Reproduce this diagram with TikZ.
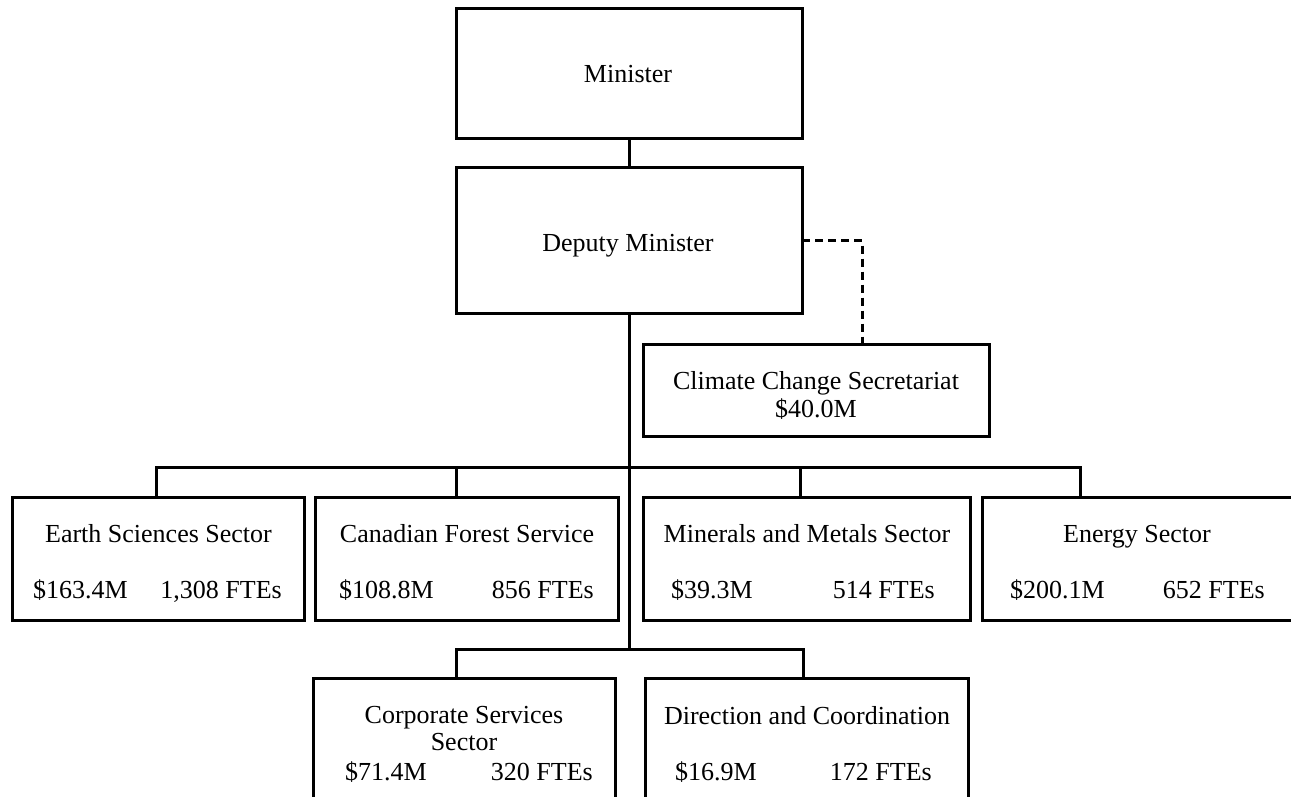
\documentclass[tikz,border=0pt]{standalone}
\usepackage{fontspec}
\setmainfont{Liberation Serif}
\begin{document}
\begin{tikzpicture}[x=1pt,y=-1pt,
  box/.style={draw, line width=3pt, inner sep=0pt, outer sep=0pt, rectangle},
  lbl/.style={inner sep=0pt, font=\fontsize{26}{28}\selectfont, anchor=base},
  lblL/.style={lbl, anchor=base west},
  lblR/.style={lbl, anchor=base east},
  conn/.style={line width=3pt, line join=miter},
  dashconn/.style={line width=3pt, dash pattern=on 8pt off 5pt}]
\useasboundingbox (0,0) rectangle (1291,797);

% boxes
\node[box, minimum width=346pt, minimum height=130pt] (min) at (629,74) {};
\node[box, minimum width=346pt, minimum height=145pt] (dep) at (629,240.5) {};
\node[box, minimum width=346pt, minimum height=92pt] (cli) at (816,390) {};
\node[box, minimum width=292pt, minimum height=123pt] (ear) at (158,558.5) {};
\node[box, minimum width=303pt, minimum height=123pt] (can) at (466.5,558.5) {};
\node[box, minimum width=327pt, minimum height=123pt] (mnm) at (806.5,558.5) {};
\node[box, minimum width=311pt, minimum height=123pt] (ene) at (1137.5,558.5) {};
\node[box, minimum width=302pt, minimum height=122pt] (cor) at (464,739) {};
\node[box, minimum width=323pt, minimum height=122pt] (dir) at (806.5,739) {};

% texts
\node[lbl] (tmin) at (628,83) {Minister};
\node[lbl] (tdep) at (628,251) {Deputy Minister};
\node[lbl] (tcli1) at (816,389) {Climate Change Secretariat};
\node[lbl] (tcli2) at (816,417) {\$40.0M};

\node[lbl] (tear) at (158.5,542) {Earth Sciences Sector};
\node[lblL] (fear1) at (33,598) {\$163.4M};
\node[lblR] (fear2) at (282,598) {1,308 FTEs};

\node[lbl] (tcan) at (467,542) {Canadian Forest Service};
\node[lblL] (fcan1) at (339,598) {\$108.8M};
\node[lblR] (fcan2) at (594,598) {856 FTEs};

\node[lbl] (tmnm) at (807,542) {Minerals and Metals Sector};
\node[lblL] (fmnm1) at (671,598) {\$39.3M};
\node[lblR] (fmnm2) at (935,598) {514 FTEs};

\node[lbl] (tene) at (1137,542) {Energy Sector};
\node[lblL] (fene1) at (1010,598) {\$200.1M};
\node[lblR] (fene2) at (1265,598) {652 FTEs};

\node[lbl] (tcor1) at (464,723) {Corporate Services};
\node[lbl] (tcor2) at (464,750) {Sector};
\node[lblL] (fcor1) at (345,780) {\$71.4M};
\node[lblR] (fcor2) at (593,780) {320 FTEs};

\node[lbl] (tdir) at (807,724) {Direction and Coordination};
\node[lblL] (fdir1) at (675,780) {\$16.9M};
\node[lblR] (fdir2) at (932,780) {172 FTEs};

% junction coordinates
\coordinate (j1) at (156,467);
\coordinate (j2) at (456,467);
\coordinate (j3) at (800,467);
\coordinate (j4) at (1080,467);
\coordinate (bj) at (629,649);
\coordinate (k1) at (456,649);
\coordinate (k2) at (803,649);
\coordinate (d1) at (862,240.5);

% connectors
\draw[conn] (min.south) -- (dep.north);
\draw[conn] (dep.south) -- (bj);
\draw[conn] (j1 |- ear.north) -- (j1) -- (j4) -- (j4 |- ene.north);
\draw[conn] (j2) -- (j2 |- can.north);
\draw[conn] (j3) -- (j3 |- mnm.north);
\draw[conn] (k1 |- cor.north) -- (k1) -- (k2) -- (k2 |- dir.north);
\draw[dashconn] (dep.east) -- (d1) -- (d1 |- cli.north);
\end{tikzpicture}
\end{document}
